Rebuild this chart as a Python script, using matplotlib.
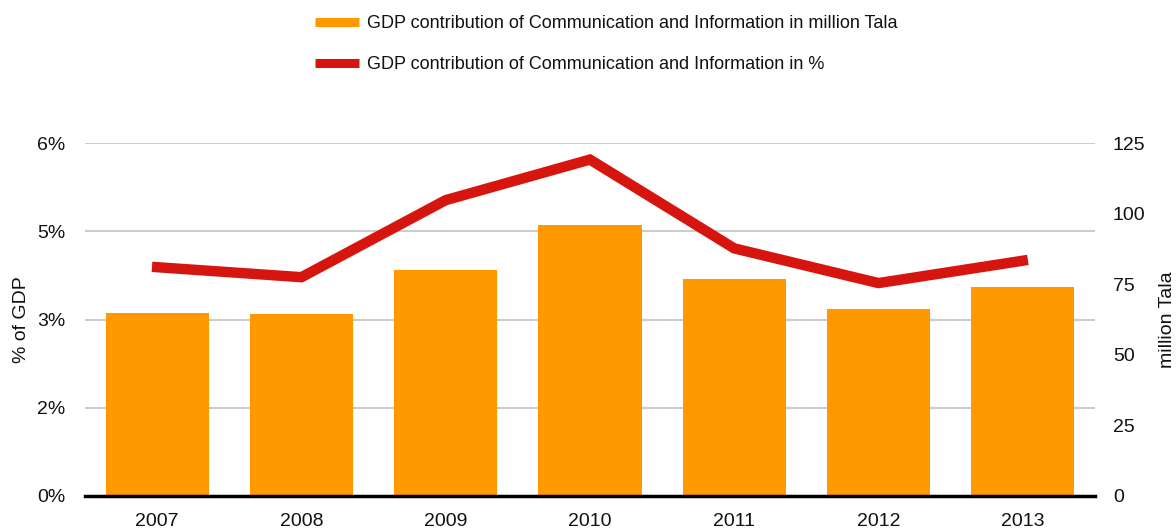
import matplotlib
matplotlib.use("Agg")
import matplotlib.pyplot as plt
from matplotlib.lines import Line2D

plt.rcParams['font.family'] = ['Liberation Sans', 'DejaVu Sans']

years = ["2007", "2008", "2009", "2010", "2011", "2012", "2013"]
million_tala = [64.7, 64.3, 79.9, 96.0, 76.7, 66.2, 74.1]
pct_of_gdp = [3.89, 3.72, 5.03, 5.72, 4.21, 3.62, 4.00]

pct_ticks = [0, 1.5, 3, 4.5, 6]
pct_labels = ["0%", "2%", "3%", "5%", "6%"]
tala_ticks = [0, 25, 50, 75, 100, 125]

bar_label = "GDP contribution of Communication and Information in million Tala"
line_label = "GDP contribution of Communication and Information in %"

ORANGE = "#FF9900"
RED = "#D7150F"
GRID = "#CCCCCC"
TEXT = "#111111"

fig = plt.figure(figsize=(11.76, 5.30), dpi=100)
fig.patch.set_facecolor("white")
ax = fig.add_axes([0.0723, 0.0642, 0.8587, 0.6658])
ax2 = ax.twinx()

x = list(range(len(years)))

# bars on the right-hand axis (million Tala)
ax2.bar(x, million_tala, width=0.715, color=ORANGE, zorder=2)
ax2.set_ylim(0, 125)
ax2.set_yticks(tala_ticks)

# percentage line on the left-hand axis, drawn above the bars
ax.set_zorder(ax2.get_zorder() + 1)
ax.patch.set_visible(False)
ax.plot(x, pct_of_gdp, color=RED, lw=7.5, solid_joinstyle='miter', zorder=3)
ax.set_ylim(0, 6)
ax.set_yticks(pct_ticks)
ax.set_yticklabels(pct_labels)
ax.set_xlim(-0.5, len(years) - 0.5)
ax.set_xticks(x)
ax.set_xticklabels(years)

# gridlines follow the left axis ticks, drawn behind the bars
for yv in pct_ticks[1:]:
    ax2.axhline(yv / 6 * 125, color=GRID, lw=1.5, zorder=0)

for a in (ax, ax2):
    for s in ('top', 'left', 'right', 'bottom'):
        a.spines[s].set_visible(False)
    a.tick_params(length=0, labelsize=14, colors=TEXT)

ax.axhline(0, color="black", lw=2.5, zorder=4, clip_on=False)

ax.tick_params(axis='y', pad=14)
ax.tick_params(axis='x', pad=12)
ax2.tick_params(axis='y', pad=13)

ax.set_ylabel("% of GDP", fontsize=14, color=TEXT)
ax.yaxis.set_label_coords(-0.054, 0.5)
ax2.set_ylabel("million Tala", fontsize=14, color=TEXT)
ax2.yaxis.set_label_coords(1.064, 0.5)

handles = [
    Line2D([0], [0], color=ORANGE, lw=6.5, solid_capstyle='butt'),
    Line2D([0], [0], color=RED, lw=6.5, solid_capstyle='butt'),
]
fig.legend(handles, [bar_label, line_label], loc='upper left',
           bbox_to_anchor=(0.268, 0.972), frameon=False, fontsize=13,
           handlelength=2.45, handletextpad=0.4, labelspacing=1.36,
           borderaxespad=0, borderpad=0, labelcolor=TEXT)

fig.savefig("out.png", dpi=100, facecolor="white")
